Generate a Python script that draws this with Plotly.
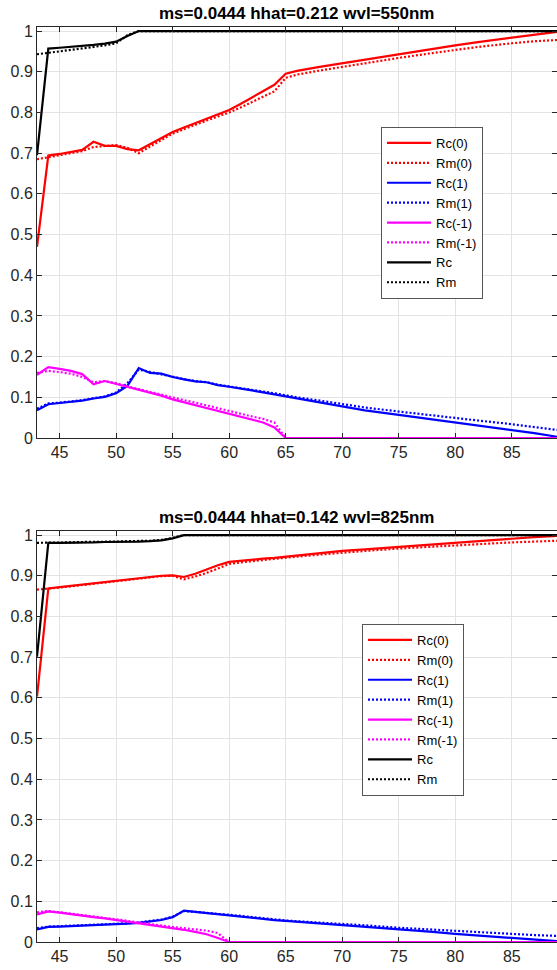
import plotly.graph_objects as go
from plotly.subplots import make_subplots

# ---------------- data ----------------
angles = [43, 44, 45, 46, 47, 48, 49, 50, 51, 52, 53, 54, 55, 56, 57, 58, 59, 60,
          61, 62, 63, 64, 65, 66, 68, 70, 72, 75, 78, 80, 82, 85, 87, 89]

# top panel: ms=0.0444 hhat=0.212 wvl=550nm
top_rc0 = [0.470, 0.694, 0.698, 0.703, 0.708, 0.728, 0.718, 0.718, 0.710, 0.707, 0.722, 0.737,
           0.752, 0.763, 0.774, 0.785, 0.795, 0.806, 0.821, 0.836, 0.852, 0.868, 0.895, 0.902,
           0.912, 0.921, 0.930, 0.944, 0.957, 0.965, 0.973, 0.984, 0.991, 0.998]
top_rm0 = [0.685, 0.690, 0.695, 0.700, 0.705, 0.715, 0.718, 0.720, 0.713, 0.700, 0.716, 0.732,
           0.748, 0.759, 0.770, 0.780, 0.790, 0.800, 0.812, 0.825, 0.838, 0.852, 0.885, 0.893,
           0.903, 0.912, 0.920, 0.934, 0.946, 0.954, 0.961, 0.970, 0.975, 0.978]
top_rc1 = [0.068, 0.083, 0.086, 0.089, 0.092, 0.097, 0.101, 0.110, 0.128, 0.172, 0.160, 0.158,
           0.150, 0.144, 0.139, 0.137, 0.130, 0.126, 0.122, 0.117, 0.112, 0.107, 0.102, 0.097,
           0.088, 0.078, 0.068, 0.057, 0.046, 0.039, 0.032, 0.021, 0.012, 0.003]
top_rm1 = [0.072, 0.085, 0.087, 0.090, 0.093, 0.098, 0.102, 0.112, 0.135, 0.168, 0.162, 0.157,
           0.150, 0.145, 0.140, 0.137, 0.131, 0.127, 0.123, 0.119, 0.114, 0.110, 0.105, 0.100,
           0.092, 0.083, 0.075, 0.065, 0.055, 0.049, 0.043, 0.034, 0.027, 0.020]
top_rcm1 = [0.155, 0.174, 0.170, 0.165, 0.157, 0.132, 0.140, 0.133, 0.125, 0.118, 0.111, 0.104,
            0.095, 0.088, 0.081, 0.074, 0.067, 0.060, 0.053, 0.046, 0.038, 0.026, 0.000, 0.000,
            0.000, 0.000, 0.000, 0.000, 0.000, 0.000, 0.000, 0.000, 0.000, 0.000]
top_rmm1 = [0.160, 0.165, 0.162, 0.158, 0.150, 0.137, 0.140, 0.135, 0.127, 0.120, 0.114, 0.107,
            0.100, 0.093, 0.087, 0.080, 0.073, 0.067, 0.060, 0.053, 0.047, 0.038, 0.000, 0.000,
            0.000, 0.000, 0.000, 0.000, 0.000, 0.000, 0.000, 0.000, 0.000, 0.000]
top_rc = [0.695, 0.957, 0.959, 0.961, 0.963, 0.966, 0.969, 0.974, 0.988, 1.000, 1.000, 1.000,
          1.000, 1.000, 1.000, 1.000, 1.000, 1.000, 1.000, 1.000, 1.000, 1.000, 1.000, 1.000,
          1.000, 1.000, 1.000, 1.000, 1.000, 1.000, 1.000, 1.000, 1.000, 1.000]
top_rm = [0.943, 0.946, 0.950, 0.954, 0.957, 0.961, 0.965, 0.970, 0.990, 1.000, 1.000, 1.000,
          1.000, 1.000, 1.000, 1.000, 1.000, 1.000, 1.000, 1.000, 1.000, 1.000, 1.000, 1.000,
          1.000, 1.000, 1.000, 1.000, 1.000, 1.000, 1.000, 1.000, 1.000, 1.000]

# bottom panel: ms=0.0444 hhat=0.142 wvl=825nm
bot_rc0 = [0.603, 0.869, 0.872, 0.875, 0.878, 0.882, 0.885, 0.888, 0.891, 0.894, 0.897, 0.900,
           0.901, 0.897, 0.905, 0.915, 0.926, 0.934, 0.937, 0.939, 0.942, 0.944, 0.947, 0.950,
           0.955, 0.961, 0.965, 0.971, 0.978, 0.982, 0.986, 0.991, 0.995, 0.998]
bot_rm0 = [0.866, 0.868, 0.871, 0.874, 0.877, 0.881, 0.884, 0.887, 0.890, 0.893, 0.896, 0.899,
           0.900, 0.891, 0.898, 0.907, 0.918, 0.929, 0.933, 0.936, 0.939, 0.942, 0.945, 0.947,
           0.952, 0.957, 0.961, 0.967, 0.972, 0.975, 0.978, 0.982, 0.984, 0.986]
bot_rc1 = [0.031, 0.037, 0.038, 0.039, 0.040, 0.041, 0.042, 0.043, 0.045, 0.047, 0.050, 0.054,
           0.061, 0.077, 0.074, 0.071, 0.068, 0.066, 0.063, 0.060, 0.057, 0.054, 0.052, 0.050,
           0.046, 0.042, 0.038, 0.031, 0.025, 0.020, 0.016, 0.010, 0.006, 0.002]
bot_rm1 = [0.034, 0.038, 0.039, 0.040, 0.041, 0.042, 0.043, 0.044, 0.046, 0.048, 0.051, 0.055,
           0.062, 0.076, 0.074, 0.071, 0.069, 0.067, 0.064, 0.061, 0.058, 0.056, 0.053, 0.051,
           0.048, 0.044, 0.041, 0.035, 0.030, 0.027, 0.024, 0.020, 0.017, 0.015]
bot_rcm1 = [0.068, 0.075, 0.072, 0.068, 0.065, 0.061, 0.058, 0.054, 0.050, 0.047, 0.043, 0.039,
            0.034, 0.030, 0.025, 0.019, 0.010, 0.000, 0.000, 0.000, 0.000, 0.000, 0.000, 0.000,
            0.000, 0.000, 0.000, 0.000, 0.000, 0.000, 0.000, 0.000, 0.000, 0.000]
bot_rmm1 = [0.073, 0.076, 0.073, 0.070, 0.066, 0.063, 0.059, 0.056, 0.052, 0.048, 0.044, 0.041,
            0.037, 0.034, 0.031, 0.028, 0.022, 0.000, 0.000, 0.000, 0.000, 0.000, 0.000, 0.000,
            0.000, 0.000, 0.000, 0.000, 0.000, 0.000, 0.000, 0.000, 0.000, 0.000]
bot_rc = [0.701, 0.981, 0.981, 0.981, 0.982, 0.982, 0.983, 0.983, 0.984, 0.984, 0.985, 0.987,
          0.992, 1.000, 1.000, 1.000, 1.000, 1.000, 1.000, 1.000, 1.000, 1.000, 1.000, 1.000,
          1.000, 1.000, 1.000, 1.000, 1.000, 1.000, 1.000, 1.000, 1.000, 1.000]
bot_rm = [0.981, 0.981, 0.982, 0.982, 0.983, 0.983, 0.984, 0.984, 0.985, 0.985, 0.986, 0.988,
          0.993, 1.000, 1.000, 1.000, 1.000, 1.000, 1.000, 1.000, 1.000, 1.000, 1.000, 1.000,
          1.000, 1.000, 1.000, 1.000, 1.000, 1.000, 1.000, 1.000, 1.000, 1.000]

names = ["Rc(0)", "Rm(0)", "Rc(1)", "Rm(1)", "Rc(-1)", "Rm(-1)", "Rc", "Rm"]
titles = ["ms=0.0444 hhat=0.212 wvl=550nm", "ms=0.0444 hhat=0.142 wvl=825nm"]
x_ticks = [45, 50, 55, 60, 65, 70, 75, 80, 85]
y_ticks = [0, 0.1, 0.2, 0.3, 0.4, 0.5, 0.6, 0.7, 0.8, 0.9, 1]
y_tick_text = ["0", "0.1", "0.2", "0.3", "0.4", "0.5", "0.6", "0.7", "0.8", "0.9", "1"]

top_series = [top_rc0, top_rm0, top_rc1, top_rm1, top_rcm1, top_rmm1, top_rc, top_rm]
bot_series = [bot_rc0, bot_rm0, bot_rc1, bot_rm1, bot_rcm1, bot_rmm1, bot_rc, bot_rm]

colors = ["#ff0000", "#ff0000", "#0000ff", "#0000ff", "#ff00ff", "#ff00ff", "#000000", "#000000"]
dashes = ["solid", "2px,2px"] * 4

FONT = "Liberation Sans, Arial, sans-serif"
AX = "#262626"

W, H = 557, 970
ML, MR, MT, MB = 37, 0, 27, 28
plot_h = H - MT - MB
panel_h = 411
top_dom = [1 - panel_h / plot_h, 1]
bot_dom = [0, panel_h / plot_h]

fig = make_subplots(rows=2, cols=1)

for row, series, leg in [(1, top_series, "legend"), (2, bot_series, "legend2")]:
    for name, ys, c, d in zip(names, series, colors, dashes):
        fig.add_trace(go.Scatter(x=angles, y=ys, mode="lines", name=name,
                                 line=dict(color=c, width=2.2, dash=d),
                                 legend=leg, hoverinfo="skip"),
                      row=row, col=1)

axis_common = dict(showline=True, linecolor=AX, linewidth=1, mirror="ticks",
                   ticks="inside", ticklen=5, tickcolor=AX,
                   showgrid=True, gridcolor="#e3e3e3", gridwidth=1,
                   zeroline=False, automargin=False,
                   tickfont=dict(family=FONT, size=16, color=AX))

fig.update_xaxes(range=[43, 89], tickvals=x_ticks, **axis_common)
fig.update_yaxes(range=[0, 1.01], tickvals=y_ticks, ticktext=y_tick_text, **axis_common)
fig.update_layout(yaxis=dict(domain=top_dom), yaxis2=dict(domain=bot_dom))

for i, t in enumerate(titles):
    yref = "y domain" if i == 0 else "y2 domain"
    fig.add_annotation(text="<b>" + t + "</b>", xref="paper", x=0.5, yref=yref, y=1,
                       xanchor="center", yanchor="bottom", yshift=2, showarrow=False,
                       font=dict(family=FONT, size=17, color="#000000"))

leg_common = dict(bgcolor="#ffffff", bordercolor="#555555", borderwidth=1,
                  font=dict(family=FONT, size=13, color="#000000"),
                  xanchor="left", yanchor="top", tracegroupgap=0, itemwidth=44)
fig.update_layout(
    width=W, height=H,
    margin=dict(l=ML, r=MR, t=MT, b=MB),
    paper_bgcolor="#ffffff", plot_bgcolor="#ffffff",
    showlegend=True,
    legend=dict(x=(381 - ML) / (W - ML - MR), y=(H - MB - 127) / plot_h, **leg_common),
    legend2=dict(x=(362 - ML) / (W - ML - MR), y=(H - MB - 624) / plot_h, **leg_common),
)

fig.write_html("out.html", config={"displayModeBar": False},
               post_script="document.body.style.margin='0';document.body.style.overflow='hidden';")
